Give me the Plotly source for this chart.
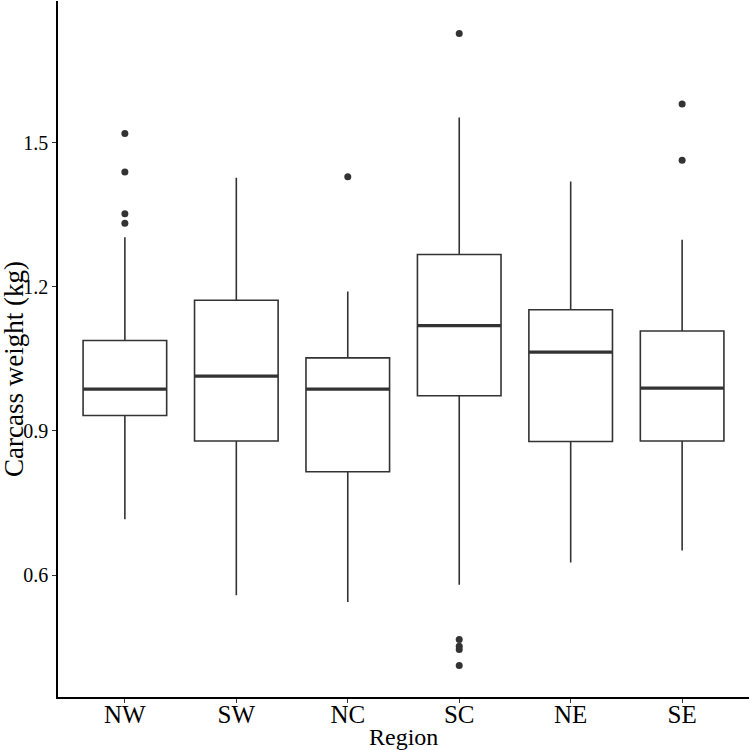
import plotly.graph_objects as go

# Box statistics (carcass weight in kg)
regions = ["NW", "SW", "NC", "SC", "NE", "SE"]
lower_whisker = [0.716, 0.558, 0.544, 0.580, 0.626, 0.651]
q1 = [0.932, 0.879, 0.815, 0.973, 0.878, 0.879]
median = [0.987, 1.014, 0.987, 1.119, 1.064, 0.989]
q3 = [1.088, 1.172, 1.052, 1.267, 1.152, 1.108]
upper_whisker = [1.303, 1.427, 1.190, 1.552, 1.419, 1.298]
outliers = [
    [1.519, 1.439, 1.352, 1.332],
    [],
    [1.429],
    [1.727, 0.466, 0.452, 0.445, 0.412],
    [],
    [1.580, 1.463],
]

LINE = "#333333"
FONT = "Liberation Serif"
BOX_W = 0.75

pos = list(range(len(regions)))

fig = go.Figure()

fig.add_trace(
    go.Box(
        x=pos,
        q1=q1,
        median=median,
        q3=q3,
        lowerfence=lower_whisker,
        upperfence=upper_whisker,
        width=BOX_W,
        whiskerwidth=0,
        boxpoints=False,
        fillcolor="white",
        line=dict(color=LINE, width=1.6),
        showlegend=False,
    )
)

# thicker median bars, like ggplot's fatten
for i, m in zip(pos, median):
    fig.add_shape(
        type="line",
        xref="x",
        yref="y",
        x0=i - BOX_W / 2,
        x1=i + BOX_W / 2,
        y0=m,
        y1=m,
        line=dict(color=LINE, width=3.2),
    )

ox, oy = [], []
for i, vals in zip(pos, outliers):
    ox += [i] * len(vals)
    oy += vals

fig.add_trace(
    go.Scatter(
        x=ox,
        y=oy,
        mode="markers",
        marker=dict(color=LINE, size=7),
        showlegend=False,
    )
)

fig.update_layout(
    width=750,
    height=750,
    plot_bgcolor="white",
    paper_bgcolor="white",
    margin=dict(l=58, r=1, t=1, b=53),
    font=dict(family=FONT, color="black"),
)

fig.update_xaxes(
    range=[-0.6, 5.6],
    tickmode="array",
    tickvals=pos,
    ticktext=regions,
    tickfont=dict(size=25, color="black"),
    ticklabelstandoff=-10,
    showgrid=False,
    zeroline=False,
    showline=True,
    linecolor="black",
    linewidth=1.5,
    ticks="outside",
    ticklen=4,
    tickcolor=LINE,
    automargin=False,
)

fig.update_yaxes(
    range=[0.3462, 1.7946],
    tickmode="array",
    tickvals=[0.6, 0.9, 1.2, 1.5],
    ticktext=["0.6", "0.9", "1.2", "1.5"],
    tickfont=dict(size=20, color="black"),
    showgrid=False,
    zeroline=False,
    showline=True,
    linecolor="black",
    linewidth=1.5,
    ticks="outside",
    ticklen=4,
    tickcolor=LINE,
    automargin=False,
)

# axis titles placed as annotations so they sit where the reference has them
fig.add_annotation(
    text="Region", xref="paper", yref="paper", x=0.5, y=0,
    yshift=-40, showarrow=False, font=dict(size=24), yanchor="middle",
)
fig.add_annotation(
    text="Carcass weight (kg)", xref="paper", yref="paper", x=0, y=0.5,
    xshift=-44, yshift=-20, textangle=-90, showarrow=False,
    font=dict(size=27), xanchor="center", yanchor="middle",
)

# drop the default page margin so the figure starts at the window corner
fig.write_html(
    "out.html",
    config={"displayModeBar": False},
    post_script="document.body.style.margin='0';",
)
